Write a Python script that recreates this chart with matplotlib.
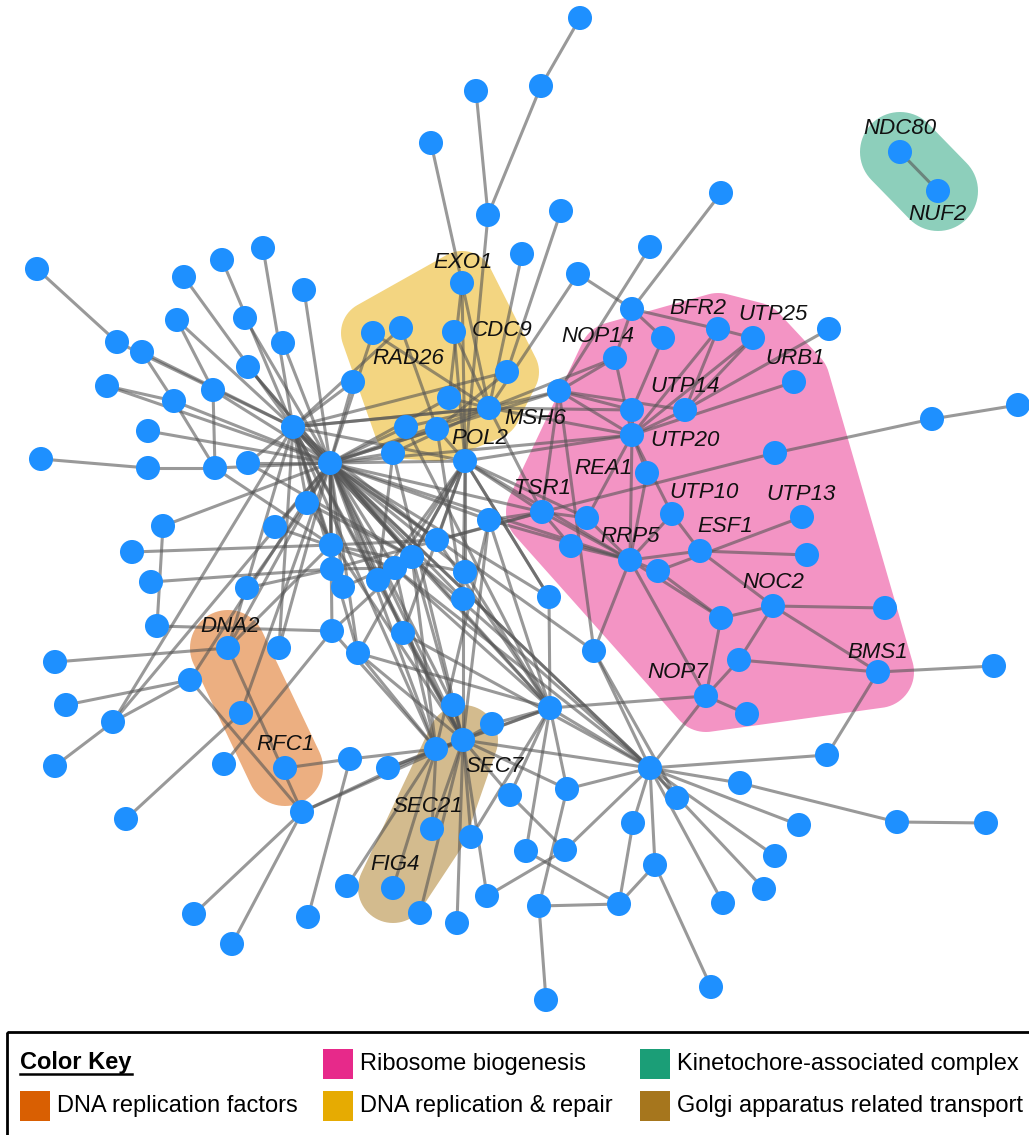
import numpy as np
import matplotlib
matplotlib.use("Agg")
import matplotlib.pyplot as plt
from matplotlib.patches import Polygon, Rectangle

plt.rcParams['font.family'] = ['Liberation Sans', 'DejaVu Sans']

# node layout (pixel-like layout coordinates of the network drawing)
node_x = [580, 541, 476, 431, 488, 561, 522, 462, 578, 650, 721, 900, 938,
          37, 184, 222, 263, 304, 177, 245, 117, 142, 283, 107, 213, 174, 248,
          41, 148, 148, 215, 248, 293, 330, 307, 275, 163, 132, 151, 157, 247,
          331, 332, 343, 332, 228, 279, 55, 190, 66, 113, 241, 55, 224, 285,
          302, 126, 194, 232, 308,
          373, 401, 454, 353, 507, 449, 489, 406, 437, 393, 465,
          632, 663, 718, 753, 829, 615, 559, 632, 685, 632, 794, 775, 932, 1018,
          647, 672, 802, 542, 587, 571, 630, 658, 700, 807, 773, 885, 721, 739,
          706, 747, 878, 994,
          489, 437, 412, 395, 378, 465, 463, 549, 403, 358, 594,
          453, 492, 463, 436, 550, 350, 388, 510, 567, 650, 677, 633, 432, 471,
          526, 565, 655, 347, 393, 487, 539, 619, 420, 457, 546,
          827, 740, 799, 897, 986, 775, 764, 723, 711]
node_y = [18, 86, 91, 143, 215, 211, 254, 283, 274, 247, 193, 152, 191,
          269, 277, 260, 248, 290, 320, 318, 342, 352, 343, 386, 390, 401, 367,
          459, 431, 468, 468, 463, 427, 463, 503, 527, 526, 552, 582, 626, 588,
          545, 569, 587, 631, 648, 648, 662, 680, 705, 722, 713, 766, 764, 768,
          812, 819, 914, 944, 917,
          333, 328, 332, 382, 372, 398, 408, 427, 429, 453, 461,
          309, 338, 329, 338, 329, 358, 391, 410, 410, 435, 382, 453, 419, 405,
          473, 514, 517, 512, 518, 546, 560, 571, 551, 555, 606, 608, 618, 660,
          696, 714, 672, 666,
          520, 540, 557, 568, 580, 572, 599, 597, 633, 653, 651,
          705, 724, 740, 749, 708, 759, 768, 795, 789, 768, 798, 823, 829, 837,
          851, 850, 865, 886, 888, 896, 906, 904, 913, 923, 1000,
          755, 783, 825, 822, 823, 856, 889, 903, 987]

edges = [
    (0, 1), (1, 4), (2, 4), (3, 7), (4, 70), (5, 64), (6, 66), (8, 66), (8, 71), (9, 77), (10, 71), (11, 12),
    (7, 65), (7, 70), (7, 66), (60, 33), (60, 66), (61, 68), (61, 32), (62, 66), (62, 70), (63, 33), (63, 32),
    (64, 68), (64, 32), (65, 66), (65, 33), (66, 33), (66, 32), (66, 77), (66, 76), (66, 78), (66, 80), (66, 88),
    (67, 33), (67, 66), (68, 33), (68, 70), (69, 33), (69, 66), (70, 33), (70, 32), (70, 88), (70, 89), (70, 91),
    (70, 105), (70, 108), (70, 110), (70, 80),
    (71, 72), (71, 73), (71, 76), (72, 78), (73, 74), (73, 79), (73, 80), (74, 79), (74, 80), (75, 79), (76, 77),
    (76, 80), (77, 80), (77, 78), (77, 88), (77, 79), (78, 80), (79, 80), (80, 81), (80, 85), (80, 86), (80, 91),
    (80, 89), (85, 91), (86, 93), (86, 91), (87, 92), (88, 89), (88, 91), (89, 91), (90, 91), (90, 88), (91, 92),
    (91, 93), (91, 97), (93, 94), (93, 95), (95, 96), (95, 97), (95, 98), (95, 101), (97, 99), (98, 101), (98, 99),
    (99, 100), (101, 102), (101, 139), (82, 83), (83, 84), (82, 88), (92, 97), (91, 99),
    (13, 20), (14, 32), (15, 32), (16, 32), (17, 33), (18, 24), (18, 32), (19, 33), (20, 32), (21, 32), (21, 25),
    (22, 33), (23, 25), (23, 33), (24, 30), (24, 33), (25, 30), (25, 33), (26, 33), (27, 29), (29, 30), (30, 33),
    (28, 33), (31, 33), (31, 32), (30, 41), (34, 40), (34, 32), (34, 33), (35, 33), (36, 39), (36, 33), (37, 41),
    (38, 42), (39, 44), (40, 42), (41, 33), (42, 33), (43, 33), (44, 33), (41, 32), (43, 32), (45, 47), (45, 55),
    (45, 33), (45, 41), (45, 32), (46, 33), (46, 32), (48, 49), (48, 50), (48, 55), (48, 33), (50, 52), (50, 33),
    (50, 32), (51, 56), (51, 33), (53, 44), (54, 119), (55, 57), (55, 58), (55, 117), (55, 116), (59, 119),
    (32, 33), (32, 66), (33, 77), (33, 80), (33, 88), (33, 91),
    (103, 33), (103, 88), (103, 91), (103, 118), (104, 33), (104, 32), (104, 88), (105, 32), (105, 33),
    (105, 116), (105, 117), (106, 33), (106, 117), (106, 123), (107, 33), (107, 32), (108, 33), (109, 33),
    (109, 70), (110, 70), (110, 118), (111, 33), (111, 116), (112, 33), (112, 32), (112, 116), (112, 117),
    (113, 91), (113, 123), (113, 77),
    (114, 33), (114, 116), (115, 116), (115, 118), (116, 117), (116, 118), (117, 118), (116, 123), (118, 123),
    (118, 99), (118, 121), (118, 122), (118, 128), (119, 117), (120, 116), (120, 117), (121, 116), (121, 129),
    (122, 123), (122, 116), (123, 99), (123, 139), (123, 140), (123, 141), (123, 144), (123, 145), (123, 146),
    (123, 124), (123, 125), (123, 129), (123, 130), (124, 113), (125, 135), (126, 116), (126, 117), (127, 116),
    (127, 118), (128, 135), (129, 133), (130, 135), (131, 117), (132, 117), (133, 116), (134, 135), (134, 138),
    (134, 122), (136, 116), (137, 116), (140, 142), (142, 143), (147, 130),
    # dense crossing links through the centre
    (32, 116), (32, 117), (32, 118), (32, 123), (33, 116), (33, 117), (33, 118), (33, 123), (33, 110),
    (33, 113), (70, 106), (70, 107), (70, 112), (70, 111), (70, 104), (34, 105), (34, 116), (41, 104),
    (41, 108), (42, 106), (42, 88), (43, 105), (44, 105), (44, 117), (69, 107), (69, 116), (67, 118),
    (68, 109), (103, 117), (103, 116), (104, 118), (105, 123), (106, 118), (107, 116), (108, 118),
    (109, 116), (111, 123), (112, 118), (35, 106), (31, 105), (26, 105),
]

# labelled genes: node index and label offset
label_names = ["EXO1", "CDC9", "RAD26", "NOP14", "BFR2", "UTP25", "URB1", "UTP14", "MSH6", "UTP20",
               "POL2", "REA1", "TSR1", "UTP10", "UTP13", "ESF1", "RRP5", "NOC2", "DNA2", "BMS1",
               "NOP7", "RFC1", "SEC7", "SEC21", "FIG4", "NDC80", "NUF2"]
label_node = [7, 62, 61, 76, 73, 74, 81, 79, 66, 80, 70, 85, 88, 86, 87, 93, 91, 95, 45, 101,
              99, 54, 116, 126, 132, 11, 12]
label_dx = [1, 48, 7, -17, -20, 20, 1, 0, 46, 53, 15, -44, 1, 32, -1, 25, 0, 0, 2, 0, -28, 0, 31, -4, 2, 0, -1]
label_dy = [-21, -2, 30, -22, -20, -23, -24, -23, 10, 5, -22, -4, -23, -21, -23, -24, -23, -23, -21, -20,
            -24, -23, 27, -23, -23, -24, 23]

# functional groups
group_names = ["DNA replication factors", "Ribosome biogenesis", "DNA replication & repair",
               "Kinetochore-associated complex", "Golgi apparatus related transport"]
group_colors = ["#D95F02", "#E7298A", "#E6AB02", "#1B9E77", "#A6761D"]
group_members = [[45, 54],
                 [76, 73, 74, 81, 79, 80, 85, 88, 86, 87, 93, 91, 95, 101, 99],
                 [7, 60, 61, 62, 64, 66, 67, 68],
                 [11, 12],
                 [116, 126, 132]]
group_pad = [38, 36, 32, 40, 35]


def convex_hull(pts):
    pts = sorted(map(tuple, pts))
    def cross(o, a, b):
        return (a[0] - o[0]) * (b[1] - o[1]) - (a[1] - o[1]) * (b[0] - o[0])
    lower, upper = [], []
    for p in pts:
        while len(lower) >= 2 and cross(lower[-2], lower[-1], p) <= 0:
            lower.pop()
        lower.append(p)
    for p in reversed(pts):
        while len(upper) >= 2 and cross(upper[-2], upper[-1], p) <= 0:
            upper.pop()
        upper.append(p)
    return np.array(lower[:-1] + upper[:-1])


def blend(c, a=0.5):
    rgb = np.array(matplotlib.colors.to_rgb(c))
    return tuple(rgb * a + (1 - a))


fig = plt.figure(figsize=(10.29, 11.35), dpi=100)
ax = fig.add_axes([0, 0, 1, 1])
ax.set_xlim(0, 1029)
ax.set_ylim(1135, 0)
ax.axis("off")

nx = np.array(node_x, dtype=float)
ny = np.array(node_y, dtype=float)

# group hulls
t = np.linspace(0, 2 * np.pi, 72, endpoint=False)
for members, col, pad in zip(group_members, group_colors, group_pad):
    pts = []
    for i in members:
        pts += list(zip(nx[i] + pad * np.cos(t), ny[i] + pad * np.sin(t)))
    hull = convex_hull(pts)
    ax.add_patch(Polygon(hull, closed=True, facecolor=blend(col), edgecolor="none", zorder=1))

# edges
for a, b in edges:
    ax.plot([nx[a], nx[b]], [ny[a], ny[b]], color="#555555", alpha=0.6, lw=2.2,
            solid_capstyle="butt", zorder=2)

# nodes
ax.scatter(nx, ny, s=300, color="#1E90FF", edgecolors="none", zorder=3)

# labels
for name, i, dx, dy in zip(label_names, label_node, label_dx, label_dy):
    ax.text(nx[i] + dx, ny[i] + dy, name, fontsize=16, style="italic",
            ha="center", va="center", color="#111111", zorder=4)

# colour key
ax.add_patch(Rectangle((7, 1032), 1040, 120, facecolor="none", edgecolor="black",
                       lw=2, zorder=5, clip_on=False))
ax.text(20, 1062, "Color Key", fontsize=17, fontweight="bold", ha="left", va="center", zorder=6)
ax.plot([20, 132], [1074, 1074], color="black", lw=1.8, zorder=6)
key_x = [20, 323, 323, 640, 640]
key_y = [1091, 1049, 1091, 1049, 1091]
for name, col, kx, ky in zip(group_names, group_colors, key_x, key_y):
    ax.add_patch(Rectangle((kx, ky), 30, 30, facecolor=col, edgecolor="none", zorder=6))
    ax.text(kx + 37, ky + 15, name, fontsize=17, ha="left", va="center", zorder=6)

fig.savefig("out.png", dpi=100)
